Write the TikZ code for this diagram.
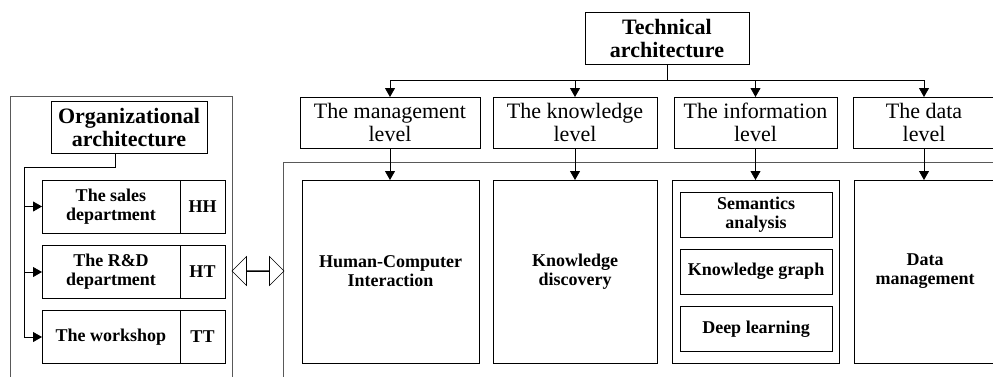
\documentclass[tikz,border=0pt]{standalone}
\usepackage{fontspec}
\setmainfont{Liberation Serif}
\usetikzlibrary{arrows.meta,shapes.arrows}

\begin{document}
\begin{tikzpicture}[x=1pt,y=-1pt,
  box/.style={draw, line width=0.8pt, inner sep=0pt, outer sep=0pt, align=center},
  lvl/.style={box, font=\fontsize{22}{23}\selectfont, minimum height=51pt},
  head/.style={box, font=\fontsize{22}{23}\selectfont\bfseries, minimum height=52pt},
  unit/.style={box, font=\fontsize{18}{19}\selectfont\bfseries, minimum height=183pt},
  dept/.style={box, font=\fontsize{18}{19}\selectfont\bfseries, minimum height=53pt},
  sub/.style={box, font=\fontsize{18}{19}\selectfont\bfseries, minimum width=152pt, minimum height=45pt},
  arr/.style={line width=0.8pt, -{Triangle[width=10pt,length=9pt]}},
  frame/.style={draw=black!65, line width=1pt}]
\useasboundingbox (0,0) rectangle (993,376);
\clip (0,0) rectangle (993,376);

% frames
\draw[frame] (10,390) |- (232,96) -- (232,390);
\draw[frame] (283,390) |- (1010,162);

% organizational side
\node[head, minimum width=156pt] (org) at (129,127) {Organizational\\architecture};
\foreach \n/\y/\t/\c in {sales/206.5/{The sales\\department}/HH,
                         rnd/272/{The R\&D\\department}/HT,
                         work/337/{The workshop}/TT}{
  \node[dept, minimum width=138pt] (\n) at (111,\y) {\t};
  \node[dept, minimum width=45pt, anchor=west] (\n code) at (\n.east) {\c};
}
\coordinate (bus) at (24,167);
\draw[line width=0.8pt] ([xshift=-14pt]org.south) |- (bus) -- (bus |- work.west);
\foreach \n in {sales,rnd,work}
  \draw[arr] (bus |- \n.west) -- (\n.west);

\node[double arrow, draw, line width=0.6pt, minimum height=52pt, minimum width=29pt,
  double arrow head extend=9.5pt, inner sep=0pt, outer sep=0pt] (link) at (258,271) {};

% technical side
\node[head, minimum width=164pt] (tech) at (667,38) {Technical\\architecture};
\node[lvl, minimum width=180pt] (mgmt) at (390,122.5) {The management\\level};
\node[lvl, minimum width=164pt] (know) at (575,122.5) {The knowledge\\level};
\node[lvl, minimum width=163pt] (info) at (755.5,122.5) {The information\\level};
\node[lvl, minimum width=142pt] (data) at (924,122.5) {The data\\level};

\node[unit, minimum width=177pt] (hci) at (390.5,271.5) {Human-Computer\\Interaction};
\node[unit, minimum width=164pt] (kd) at (575,271.5) {Knowledge\\discovery};
\node[unit, minimum width=167pt] (ia) at (755.5,271.5) {};
\node[unit, minimum width=142pt] (dm) at (925,271.5) {Data\\management};

\node[sub] (sem) at (756,214.5) {Semantics\\analysis};
\node[sub] (kg) at (756,271.5) {Knowledge graph};
\node[sub] (dl) at (756,329) {Deep learning};

\coordinate (hub) at (667,80);
\draw[line width=0.8pt] (tech.south) -- (hub);
\draw[line width=0.8pt] (hub -| mgmt.north) -- (hub -| data.north);
\foreach \n in {mgmt,know,info,data}
  \draw[arr] (hub -| \n.north) -- (\n.north);
\foreach \a/\b in {mgmt/hci,know/kd,info/ia,data/dm}
  \draw[arr] (\a.south) -- (\a.south |- \b.north);
\end{tikzpicture}
\end{document}
